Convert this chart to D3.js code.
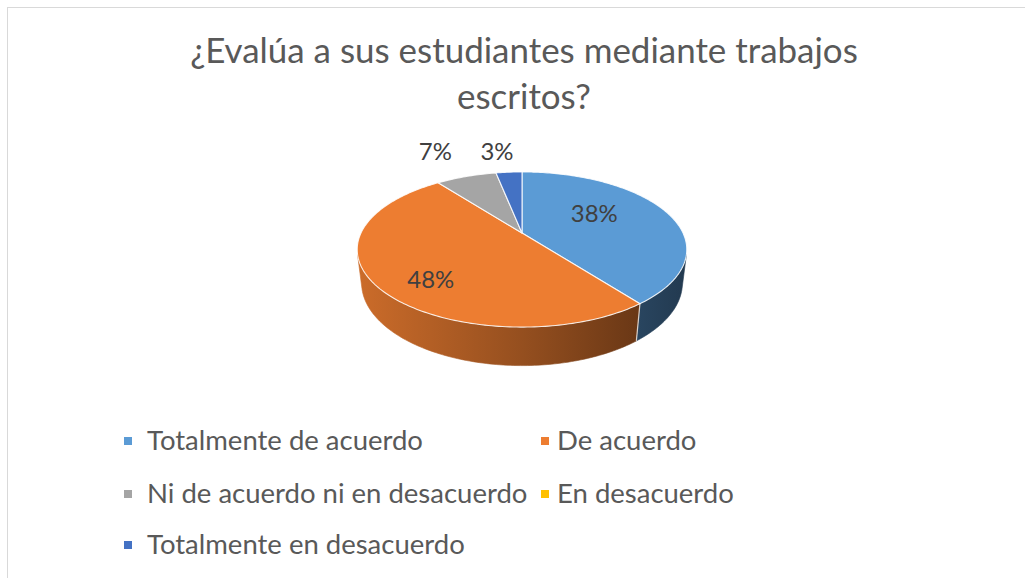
<!DOCTYPE html>
<html><head><meta charset="utf-8">
<script src="https://cdn.jsdelivr.net/npm/d3@7"></script>
<style>body{margin:0;background:#fff;overflow:hidden} svg{display:block}</style>
</head><body>
<svg id="chart" width="1025" height="578"></svg>
<script>
// ---- data ----
const categories = ["Totalmente de acuerdo","De acuerdo","Ni de acuerdo ni en desacuerdo","En desacuerdo","Totalmente en desacuerdo"];
const values = [38, 48, 7, 0, 3];
const valueLabels = ["38%", "48%", "7%", "", "3%"];
const colors = ["#5B9BD5", "#ED7D31", "#A5A5A5", "#FFC000", "#4472C4"];
const titleLines = ["¿Evalúa a sus estudiantes mediante trabajos", "escritos?"];

// ---- layout / style config ----
const FONT = "Lato, 'Open Sans', sans-serif";
const P = {cx: 522, cy: 233, R: 161, tilt: Math.asin(0.46), D: 671, H: 38};
const labelLayout = [
  {k: 0.49, dx: 0, dy: -9},
  {k: 0.68, dx: 4, dy: 12},
  {k: 1.0, dx: -31, dy: -26},
  null,
  {k: 1.0, dx: -12, dy: -22}
];

const svg = d3.select("#chart");
svg.append("rect").attr("x", 7.5).attr("y", 7.5).attr("width", 1040).attr("height", 620)
  .attr("fill", "#fff").attr("stroke", "#d9d9d9").attr("stroke-width", 1);

// fit font size so that a given string has a target width
function fitSize(text, target, base) {
  const t = svg.append("text").attr("font-family", FONT).attr("font-size", base).text(text);
  const w = t.node().getComputedTextLength();
  t.remove();
  return base * target / w;
}

const sinF = Math.sin(P.tilt), cosF = Math.cos(P.tilt);
function proj(theta, r, z) {
  const X = r * Math.sin(theta), Y = -r * Math.cos(theta);
  const v = Y * sinF - z * cosF, w = Y * cosF + z * sinF;
  const s = P.D / (P.D - w);
  return [P.cx + X * s, P.cy + v * s];
}

const pie = d3.pie().sort(null).value(d => d).startAngle(0).endAngle(2 * Math.PI);
const arcs = pie(values);
const line = d3.line();
const STEP = Math.PI / 180;
function samples(a0, a1) {
  const n = Math.max(2, Math.ceil((a1 - a0) / STEP) + 1);
  return d3.range(n).map(i => a0 + (a1 - a0) * i / (n - 1));
}

// gradients for walls
const defs = svg.append("defs");
colors.forEach((c, i) => {
  const g = defs.append("linearGradient").attr("id", "wall" + i)
    .attr("gradientUnits", "userSpaceOnUse")
    .attr("x1", P.cx - P.R * 1.03).attr("x2", P.cx + P.R * 1.03).attr("y1", 0).attr("y2", 0);
  const rgb = d3.rgb(c);
  [[0, 0.86], [0.5, 0.63], [1, 0.37]].forEach(([o, f]) => {
    g.append("stop").attr("offset", o)
      .attr("stop-color", d3.rgb(rgb.r * f, rgb.g * f, rgb.b * f).formatHex());
  });
});

// visible wall range
const thC = Math.acos(-P.R / (P.D * cosF));
const visLo = thC, visHi = 2 * Math.PI - thC;

const gWalls = svg.append("g");
arcs.forEach((a, i) => {
  if (a.endAngle - a.startAngle <= 0) return;
  const lo = Math.max(a.startAngle, visLo), hi = Math.min(a.endAngle, visHi);
  if (hi <= lo) return;
  const ts = samples(lo, hi);
  const pts = ts.map(t => proj(t, P.R, 0)).concat(ts.slice().reverse().map(t => proj(t, P.R, -P.H)));
  gWalls.append("path").attr("d", line(pts) + "Z").attr("fill", `url(#wall${i})`)
    .attr("stroke", `url(#wall${i})`).attr("stroke-width", 0.6);
});
// seams on walls
arcs.forEach(a => {
  const t = a.startAngle;
  if (t > visLo && t < visHi && a.endAngle - a.startAngle > 0) {
    gWalls.append("path").attr("d", line([proj(t, P.R, 0), proj(t, P.R, -P.H)]))
      .attr("stroke", "rgba(255,255,255,0.75)").attr("stroke-width", 1.2);
  }
});

// top faces
const gTop = svg.append("g");
arcs.forEach((a, i) => {
  if (a.endAngle - a.startAngle <= 0) return;
  const pts = [proj(0, 0, 0)].concat(samples(a.startAngle, a.endAngle).map(t => proj(t, P.R, 0)));
  gTop.append("path").attr("d", line(pts) + "Z").attr("fill", colors[i])
    .attr("stroke", "rgba(255,255,255,0.85)").attr("stroke-width", 1.1).attr("stroke-linejoin", "round");
});

// data labels
const labelSize = fitSize("38%", 47, 27);
arcs.forEach((a, i) => {
  const L = labelLayout[i];
  if (!L || !valueLabels[i]) return;
  const mid = (a.startAngle + a.endAngle) / 2;
  const p = proj(mid, P.R * L.k, 0);
  svg.append("text").attr("x", p[0] + L.dx).attr("y", p[1] + L.dy)
    .attr("text-anchor", "middle").attr("dominant-baseline", "central")
    .attr("font-family", FONT).attr("font-size", labelSize).attr("fill", "#404040")
    .text(valueLabels[i]);
});

// title
const titleSize = fitSize(titleLines[0], 668, 30);
titleLines.forEach((t, i) => {
  svg.append("text").attr("x", 524).attr("y", 63 + i * 46).attr("text-anchor", "middle")
    .attr("font-family", FONT).attr("font-size", titleSize).attr("fill", "#595959").text(t);
});

// legend
const legSize = fitSize(categories[0], 276, 27);
const legendPos = [[0, 0], [1, 0], [0, 1], [1, 1], [0, 2]];
const colX = [124, 541], rowY = [441, 494, 545];
categories.forEach((c, i) => {
  const [col, row] = legendPos[i];
  const g = svg.append("g").attr("transform", `translate(${colX[col]},${rowY[row]})`);
  g.append("rect").attr("x", 0).attr("y", -4).attr("width", 8).attr("height", 8).attr("fill", colors[i]);
  g.append("text").attr("x", col === 0 ? 23 : 16).attr("y", 9)
    .attr("font-family", FONT).attr("font-size", legSize).attr("fill", "#595959").text(c);
});
</script>
</body></html>
